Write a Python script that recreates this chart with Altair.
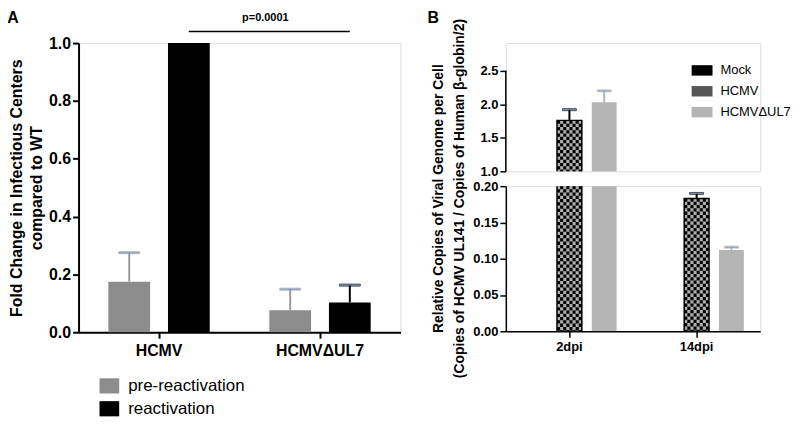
import altair as alt
import pandas as pd

FONT = "Liberation Sans"

# ---------------- Panel A data ----------------
a_groups = ["HCMV", "HCMVΔUL7"]
a_series = ["pre-reactivation", "reactivation"]
a_pre = [0.175, 0.076]
a_pre_err = [0.100, 0.073]
a_re = [1.0, 0.103]
a_re_err = [0.0, 0.060]
a_ticks = [0.0, 0.2, 0.4, 0.6, 0.8, 1.0]
p_label = "p=0.0001"
p_line_y = 1.04
p_text_y = 1.086

# ---------------- Panel B data ----------------
b_groups = ["2dpi", "14dpi"]
b_series = ["Mock", "HCMV", "HCMVΔUL7"]
b_mock = [0.0, 0.0]
b_mock_err = [0.0, 0.0]
b_hcmv = [1.76, 0.183]
b_hcmv_err = [0.16, 0.007]
b_ul7 = [2.03, 0.112]
b_ul7_err = [0.17, 0.004]
b_upper_ticks = [1.0, 1.5, 2.0, 2.5]
b_lower_ticks = [0.0, 0.05, 0.10, 0.15, 0.20]

# styles (pixel offsets of each series inside its group, bar widths)
A_OFF = {"pre-reactivation": -30, "reactivation": 30}
A_BAR_W = 42
B_OFF = {"Mock": -35, "HCMV": 0, "HCMVΔUL7": 35}
B_BAR_W = 25

rowsA = []
for i, g in enumerate(a_groups):
    rowsA.append({"group": g, "series": a_series[0], "value": a_pre[i], "hi": a_pre[i] + a_pre_err[i], "err": a_pre_err[i]})
    rowsA.append({"group": g, "series": a_series[1], "value": a_re[i], "hi": a_re[i] + a_re_err[i], "err": a_re_err[i]})
dfA = pd.DataFrame(rowsA)

rowsB = []
for i, g in enumerate(b_groups):
    for s, v, e in zip(b_series, [b_mock[i], b_hcmv[i], b_ul7[i]], [b_mock_err[i], b_hcmv_err[i], b_ul7_err[i]]):
        rowsB.append({"group": g, "series": s, "value": v, "hi": v + e, "err": e})
dfB = pd.DataFrame(rowsB)

# ---------------- Panel A ----------------
axisXA = alt.Axis(title=None, labelFont=FONT, labelFontSize=16, labelFontWeight="bold",
                  labelColor="black", labelAngle=0, domainColor="black", domainWidth=2,
                  tickColor="black", tickWidth=2, tickSize=6, labelPadding=4)
scaleXA = alt.Scale(type="band", domain=a_groups, paddingInner=0, paddingOuter=0)
xA = alt.X("group:N", sort=a_groups, scale=scaleXA, axis=axisXA)
axisYA = alt.Axis(values=a_ticks, format=".1f", labelOverlap=False,
                  title=["Fold Change in Infectious Centers", "compared to WT"],
                  titleFont=FONT, titleFontSize=16, titleFontWeight="bold", titleColor="black",
                  titleLineHeight=20, titlePadding=4,
                  labelFont=FONT, labelFontSize=16, labelFontWeight="bold", labelColor="black",
                  labelPadding=2, domainColor="black", domainWidth=2,
                  tickColor="black", tickWidth=2, tickSize=6, grid=False)
scaleYA = alt.Scale(domain=[0, 1], nice=False, zero=True)


def yA(field):
    return alt.Y(field, type="quantitative", scale=scaleYA, axis=axisYA)


colorA = alt.Color("series:N", scale=alt.Scale(domain=a_series, range=["#8c8c8c", "#000000"]),
                   legend=alt.Legend(title=None, orient="none", legendX=22, legendY=336,
                                     symbolType="M-1.1,-0.85H1.1V0.85H-1.1Z", symbolSize=324,
                                     symbolStrokeWidth=0, symbolOpacity=1,
                                     labelFont=FONT, labelFontSize=17, labelColor="black",
                                     labelOffset=10, rowPadding=6, padding=0))
strokeA = alt.Stroke("series:N", scale=alt.Scale(domain=a_series, range=["#9a9a9a", "#000000"]), legend=None)

layersA = []
for s in a_series:
    sub = dfA[dfA["series"] == s]
    layersA.append(alt.Chart(sub).mark_bar(width=A_BAR_W, xOffset=A_OFF[s]).encode(
        x=xA, y=yA("value"), color=colorA))
for s in a_series:
    sub = dfA[(dfA["series"] == s) & (dfA["err"] > 0)]
    if len(sub) == 0:
        continue
    layersA.append(alt.Chart(sub).mark_rule(strokeWidth=2, xOffset=A_OFF[s]).encode(
        x=xA, y=yA("value"), y2="hi:Q", stroke=strokeA))
    layersA.append(alt.Chart(sub).mark_tick(size=21, thickness=2, xOffset=A_OFF[s]).encode(
        x=xA, y=yA("hi"), stroke=strokeA))

sig_df = pd.DataFrame({"group": a_groups, "value": [p_line_y] * 2})
layersA.append(alt.Chart(sig_df).mark_line(color="black", strokeWidth=1.5,
                                           xOffset=A_OFF["reactivation"]).encode(
    x=xA, y=yA("value")))
ptext_df = pd.DataFrame({"group": [a_groups[0]], "value": [p_text_y], "t": [p_label]})
layersA.append(alt.Chart(ptext_df).mark_text(font=FONT, fontSize=11, fontWeight="bold", color="black",
                                             baseline="middle", dx=26).encode(
    x=alt.X("group:N", sort=a_groups, scale=scaleXA, axis=axisXA, bandPosition=1),
    y=yA("value"), text="t:N"))
layersA.append(alt.Chart(pd.DataFrame({"t": ["A"]})).mark_text(
    font=FONT, fontSize=16, fontWeight="bold", color="black", align="center", baseline="alphabetic"
).encode(x=alt.value(-66), y=alt.value(-20), text="t:N"))

chartA = alt.layer(*layersA).properties(width=324, height=291)


# ---------------- Panel B ----------------
def b_panel(domain, height, upper):
    scaleXB = alt.Scale(type="band", domain=b_groups, paddingInner=0, paddingOuter=0)
    if upper:
        axisXB = None
        yaxis = alt.Axis(values=b_upper_ticks, format=".1f", title=None, domain=False, labelOverlap=False,
                         labelFont=FONT, labelFontSize=13, labelFontWeight="bold", labelColor="black",
                         labelPadding=2, tickColor="black", tickWidth=1.5, tickSize=6, grid=False)
    else:
        axisXB = alt.Axis(title=None, labelFont=FONT, labelFontSize=13, labelFontWeight="bold",
                          labelColor="black", labelAngle=0, domainColor="black", domainWidth=1.5,
                          tickColor="black", tickWidth=1.5, tickSize=6, labelPadding=3)
        yaxis = alt.Axis(values=b_lower_ticks, format=".2f", labelOverlap=False,
                         title=["Relative Copies of Viral Genome per Cell",
                                "(Copies of HCMV UL141 / Copies of Human β-globin/2)"],
                         titleFont=FONT, titleFontSize=14, titleFontWeight="bold", titleColor="black",
                         titleLineHeight=21, titlePadding=6, titleY=12,
                         labelFont=FONT, labelFontSize=13, labelFontWeight="bold", labelColor="black",
                         labelPadding=2, domainColor="black", domainWidth=1.5,
                         tickColor="black", tickWidth=1.5, tickSize=6, grid=False)
    xB = alt.X("group:N", sort=b_groups, scale=scaleXB, axis=axisXB)
    scaleYB = alt.Scale(domain=domain, nice=False, zero=False)

    def yB(field):
        return alt.Y(field, type="quantitative", scale=scaleYB, axis=yaxis)

    if upper:
        leg = alt.Legend(title=None, orient="none", legendX=187, legendY=17,
                         symbolType="M-1,-0.5H1V0.5H-1Z", symbolSize=441,
                         symbolStrokeWidth=0, symbolOpacity=1,
                         labelFont=FONT, labelFontSize=13, labelColor="black",
                         labelOffset=8, rowPadding=3, padding=0)
    else:
        leg = None
    colorB = alt.Color("series:N", scale=alt.Scale(domain=b_series, range=["#000000", "#555555", "#b4b4b4"]),
                       legend=leg)
    strokeB = alt.Stroke("series:N", scale=alt.Scale(domain=b_series, range=["#000000", "#000000", "#b4b4b4"]),
                         legend=None)
    layers = []
    for s in b_series:
        sub = dfB[dfB["series"] == s]
        if s == "HCMV":
            layers.append(alt.Chart(sub).mark_bar(clip=True, width=B_BAR_W, xOffset=B_OFF[s]).encode(
                x=xB, y=yB("value"), y2=alt.datum(0), color=colorB))
            # checkered fill: light grey base, then black dashed columns
            layers.append(alt.Chart(sub).mark_bar(clip=True, width=B_BAR_W, xOffset=B_OFF[s],
                                                  color="#b0b0b0").encode(
                x=xB, y=yB("value"), y2=alt.datum(0)))
            ncol = 8
            cw = B_BAR_W / ncol
            for k in range(ncol):
                dx = B_OFF[s] - B_BAR_W / 2 + cw * (k + 0.5)
                layers.append(alt.Chart(sub).mark_rule(
                    clip=True, color="black", strokeWidth=cw, strokeDash=[3.3, 3.3],
                    strokeDashOffset=(0 if k % 2 == 0 else 3.3), xOffset=dx).encode(
                    x=xB, y=yB("value"), y2=alt.datum(0)))
            layers.append(alt.Chart(sub).mark_bar(clip=True, width=B_BAR_W, xOffset=B_OFF[s],
                                                  fillOpacity=0, stroke="black", strokeWidth=1.5).encode(
                x=xB, y=yB("value"), y2=alt.datum(0)))
        else:
            layers.append(alt.Chart(sub).mark_bar(clip=True, width=B_BAR_W, xOffset=B_OFF[s]).encode(
                x=xB, y=yB("value"), y2=alt.datum(0), color=colorB))
    for s in b_series:
        sub = dfB[(dfB["series"] == s) & (dfB["err"] > 0)]
        if len(sub) == 0:
            continue
        layers.append(alt.Chart(sub).mark_rule(clip=True, strokeWidth=2, xOffset=B_OFF[s]).encode(
            x=xB, y=yB("value"), y2="hi:Q", stroke=strokeB))
        layers.append(alt.Chart(sub).mark_tick(clip=True, size=14, thickness=2, xOffset=B_OFF[s]).encode(
            x=xB, y=yB("hi"), stroke=strokeB))
    if upper:
        layers.append(alt.Chart(pd.DataFrame({"a": [b_upper_ticks[0]], "b": [b_upper_ticks[-1]]})).mark_rule(
            color="black", strokeWidth=1.5).encode(x=alt.value(0), y=yB("a"), y2="b:Q"))
        layers.append(alt.Chart(pd.DataFrame({"t": ["B"]})).mark_text(
            font=FONT, fontSize=16, fontWeight="bold", color="black", align="center", baseline="alphabetic"
        ).encode(x=alt.value(-73), y=alt.value(-20), text="t:N"))
    return alt.layer(*layers).properties(width=256, height=height)


upperB = b_panel([1.0, 2.914], 129, True)
lowerB = b_panel([0.0, 0.2], 146, False)

chartB = alt.vconcat(upperB, lowerB, spacing=15, bounds="flush").resolve_scale(
    color="independent", stroke="independent")

chart = alt.hconcat(chartA, chartB, spacing=106, bounds="flush").resolve_scale(
    color="independent", stroke="independent"
).properties(padding={"left": -2, "top": 0, "right": 0, "bottom": 0}).configure_view(
    stroke=None).configure(font=FONT, background="white")

chart.save("out.html", embed_options={"renderer": "svg", "actions": False})
